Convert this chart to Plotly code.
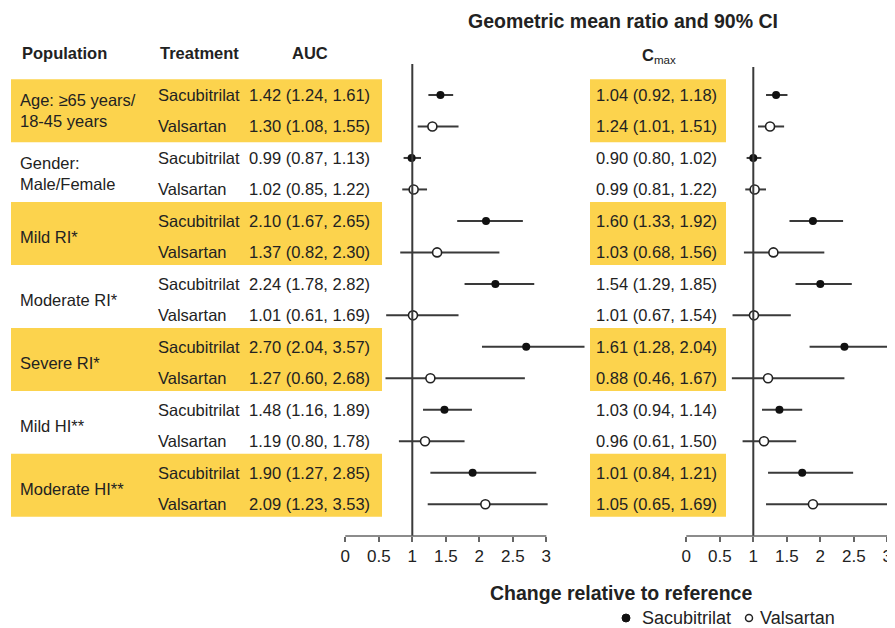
import plotly.graph_objects as go

# ---------------- data ----------------
populations = ["Age: ≥65 years/<br>18-45 years", "Gender:<br>Male/Female", "Mild RI*",
               "Moderate RI*", "Severe RI*", "Mild HI**", "Moderate HI**"]
treatments = ["Sacubitrilat", "Valsartan"]
highlighted = [True, False, True, False, True, False, True]

auc_text = ["1.42 (1.24, 1.61)", "1.30 (1.08, 1.55)", "0.99 (0.87, 1.13)", "1.02 (0.85, 1.22)",
            "2.10 (1.67, 2.65)", "1.37 (0.82, 2.30)", "2.24 (1.78, 2.82)", "1.01 (0.61, 1.69)",
            "2.70 (2.04, 3.57)", "1.27 (0.60, 2.68)", "1.48 (1.16, 1.89)", "1.19 (0.80, 1.78)",
            "1.90 (1.27, 2.85)", "2.09 (1.23, 3.53)"]
cmax_text = ["1.04 (0.92, 1.18)", "1.24 (1.01, 1.51)", "0.90 (0.80, 1.02)", "0.99 (0.81, 1.22)",
             "1.60 (1.33, 1.92)", "1.03 (0.68, 1.56)", "1.54 (1.29, 1.85)", "1.01 (0.67, 1.54)",
             "1.61 (1.28, 2.04)", "0.88 (0.46, 1.67)", "1.03 (0.94, 1.14)", "0.96 (0.61, 1.50)",
             "1.01 (0.84, 1.21)", "1.05 (0.65, 1.69)"]

# plotted marks (as drawn in the figure)
auc_gmr = [1.42, 1.30, 0.99, 1.02, 2.10, 1.37, 2.24, 1.01, 2.70, 1.27, 1.48, 1.19, 1.90, 2.09]
auc_lo = [1.24, 1.08, 0.87, 0.85, 1.67, 0.82, 1.78, 0.61, 2.04, 0.60, 1.16, 0.80, 1.27, 1.23]
auc_hi = [1.61, 1.69, 1.13, 1.22, 2.65, 2.30, 2.82, 1.69, 3.57, 2.68, 1.89, 1.78, 2.85, 3.02]

cmax_gmr = [1.34, 1.25, 1.00, 1.02, 1.89, 1.30, 2.00, 1.01, 2.36, 1.22, 1.39, 1.16, 1.73, 1.89]
cmax_lo = [1.19, 1.07, 0.90, 0.88, 1.54, 0.86, 1.63, 0.69, 1.84, 0.68, 1.13, 0.84, 1.22, 1.19]
cmax_hi = [1.51, 1.46, 1.12, 1.19, 2.34, 2.06, 2.47, 1.56, 3.07, 2.36, 1.73, 1.64, 2.49, 3.05]

tick_vals = [0, 0.5, 1, 1.5, 2, 2.5, 3]
tick_text = ["0", "0.5", "1", "1.5", "2", "2.5", "3"]

# ---------------- layout helpers ----------------
PAGE_OFF = 8            # default body margin of the html page
W, H = 895 - PAGE_OFF, 628 - PAGE_OFF
FONT = "Liberation Sans, Arial, Helvetica, sans-serif"
TXT = "#222222"
YELLOW = "#FCD34D"
LINEC = "#3a3a3a"


def X(px):
    return (px - PAGE_OFF) / W


def Y(py):
    return 1 - (py - PAGE_OFF) / H


rows = list(range(1, len(auc_text) + 1))
AXIS_PY = 536
ROW0_PY, ROW_H = 95, 31.48

fig = go.Figure()


def add_panel(gmr, lo, hi, xa):
    for k, (fill, name) in enumerate([(True, treatments[0]), (False, treatments[1])]):
        idx = [i for i in range(len(gmr)) if i % 2 == k]
        fig.add_trace(go.Scatter(
            x=[gmr[i] for i in idx], y=[rows[i] for i in idx],
            mode="markers", name=name, showlegend=False,
            xaxis=xa, yaxis="y", cliponaxis=True,
            marker=dict(size=8 if fill else 9, symbol="circle",
                        color="#111111" if fill else "white",
                        line=dict(color="#222222", width=0 if fill else 1.6)),
            error_x=dict(type="data", symmetric=False,
                         array=[hi[i] - gmr[i] for i in idx],
                         arrayminus=[gmr[i] - lo[i] for i in idx],
                         thickness=2, width=0, color=LINEC),
        ))


add_panel(auc_gmr, auc_lo, auc_hi, "x")
add_panel(cmax_gmr, cmax_lo, cmax_hi, "x2")

shapes = []
annotations = []

# yellow bands
for g, hl in enumerate(highlighted):
    if hl:
        r0 = 2 * g + 1
        off = 0.0 if g == 0 else 0.1
        for xa, xb in [(11, 382), (590, 726)]:
            shapes.append(dict(type="rect", xref="paper", yref="y", layer="below",
                               x0=X(xa), x1=X(xb), y0=r0 - 0.5 - off, y1=r0 + 1.5 - off,
                               fillcolor=YELLOW, line=dict(width=0)))

# reference lines at 1
shapes.append(dict(type="line", xref="x", yref="paper", x0=1, x1=1,
                   y0=Y(AXIS_PY), y1=Y(64), line=dict(color=LINEC, width=2)))
shapes.append(dict(type="line", xref="x2", yref="paper", x0=1, x1=1,
                   y0=Y(AXIS_PY), y1=Y(67), line=dict(color=LINEC, width=2)))
# axis lines 0..3
for xa in ["x", "x2"]:
    shapes.append(dict(type="line", xref=xa, yref="paper", x0=0, x1=3,
                       y0=Y(AXIS_PY), y1=Y(AXIS_PY), line=dict(color="#666666", width=1.5)))


def ann(text, x, y, xref="paper", yref="paper", size=16.5, anchor="left", bold=False, color=TXT):
    if bold:
        text = "<b>" + text + "</b>"
    annotations.append(dict(text=text, x=x, y=y, xref=xref, yref=yref, xanchor=anchor,
                            yanchor="middle", showarrow=False, align="left",
                            font=dict(family=FONT, size=size, color=color)))


# headers
ann("Population", X(20), Y(53), bold=True)
ann("Treatment", X(199), Y(53), anchor="center", bold=True)
ann("AUC", X(310), Y(53), anchor="center", bold=True)
ann("Geometric mean ratio and 90% CI", X(622.5), Y(21), size=19.5, anchor="center", bold=True)
ann("<b>C</b><sub>max</sub>", X(640), Y(56), anchor="left")
ann("Change relative to reference", X(621), Y(593), size=19.5, anchor="center", bold=True)

# population labels
for g, p in enumerate(populations):
    ann(p, X(18), 2 * g + 1.5, yref="y")

# rows
for i, r in enumerate(rows):
    ann(treatments[i % 2], X(156), r, yref="y")
    ann(auc_text[i], X(372), r, yref="y", anchor="right")
    ann(cmax_text[i], X(719), r, yref="y", anchor="right")

# legend
shapes.append(dict(type="circle", xref="paper", yref="paper",
                   x0=X(622), x1=X(630), y0=Y(622), y1=Y(614),
                   fillcolor="#111111", line=dict(color="#111111", width=1)))
shapes.append(dict(type="circle", xref="paper", yref="paper",
                   x0=X(745.5), x1=X(752.5), y0=Y(621.5), y1=Y(614.5),
                   fillcolor="white", line=dict(color="#222222", width=1.5)))
ann(treatments[0], X(640), Y(618), size=18)
ann(treatments[1], X(758), Y(618), size=18)

axis_common = dict(showgrid=False, zeroline=False, showline=False, ticks="outside",
                   ticklen=5, tickwidth=1.5, tickcolor="#666666",
                   tickvals=tick_vals, ticktext=tick_text,
                   tickfont=dict(family=FONT, size=17, color=TXT), anchor="y")

# y axis: row r sits at pixel ROW0_PY + (r-1)*ROW_H
y_top_row = 1 - (ROW0_PY - PAGE_OFF) / ROW_H
y_bot_row = 1 + (AXIS_PY - ROW0_PY) / ROW_H

fig.update_layout(
    width=W, height=H, margin=dict(l=0, r=0, t=0, b=0),
    paper_bgcolor="white", plot_bgcolor="rgba(0,0,0,0)",
    showlegend=False,
    xaxis=dict(domain=[X(340), X(590)], range=[-0.079, 3.652], **axis_common),
    xaxis2=dict(domain=[X(680), 1.0], range=[-0.094, 3.115], **axis_common),
    yaxis=dict(domain=[Y(AXIS_PY), 1], range=[y_bot_row, y_top_row],
               visible=False, showgrid=False, zeroline=False),
    shapes=shapes, annotations=annotations,
)

fig.write_html("out.html")
